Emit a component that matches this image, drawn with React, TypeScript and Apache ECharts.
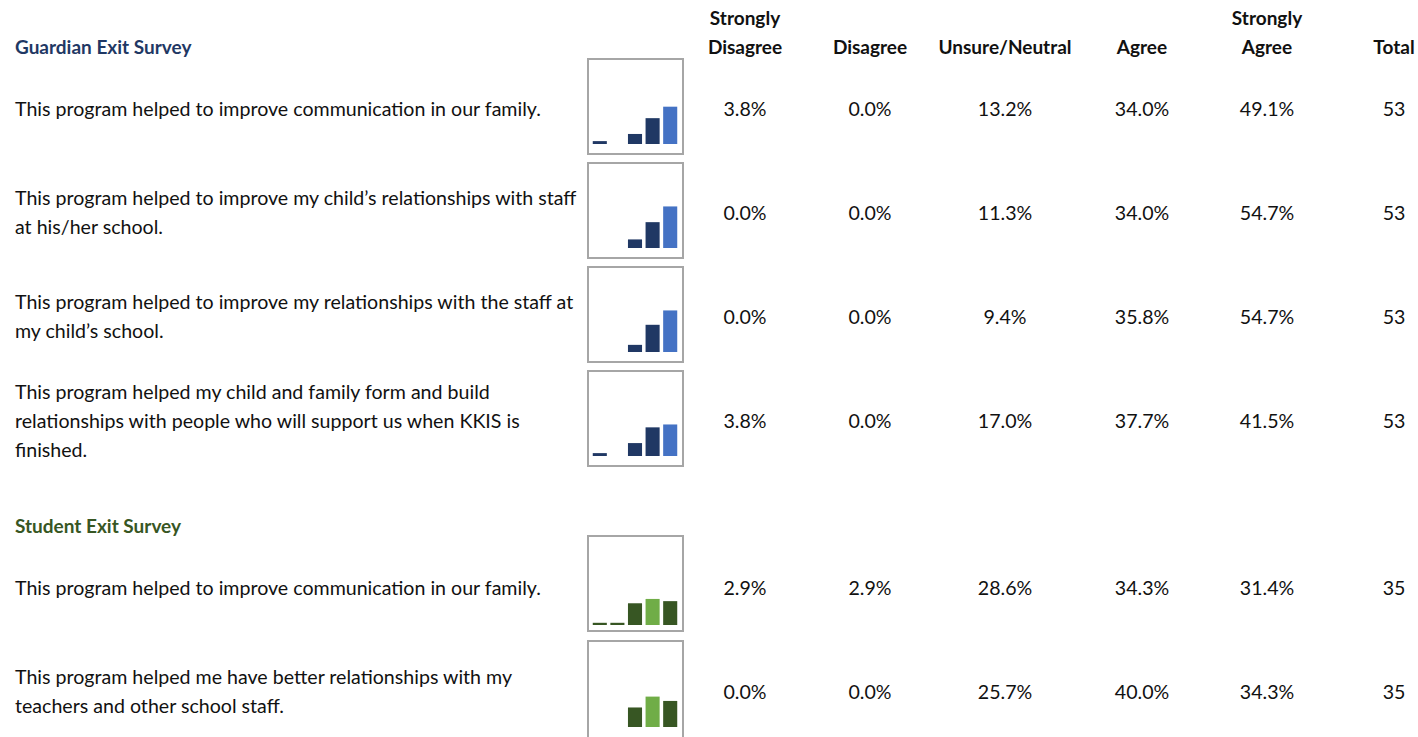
import React, { useEffect, useRef } from "react";
import * as echarts from "echarts";

const categories = ["Strongly Disagree", "Disagree", "Unsure/Neutral", "Agree", "Strongly Agree"];
const headerLabels = ["Strongly\nDisagree", "Disagree", "Unsure/Neutral", "Agree", "Strongly\nAgree", "Total"];
const guardianTitle = "Guardian Exit Survey";
const studentTitle = "Student Exit Survey";

const guardianQuestions = [
  "This program helped to improve communication in our family.",
  "This program helped to improve my child\u2019s relationships with staff\nat his/her school.",
  "This program helped to improve my relationships with the staff at\nmy child\u2019s school.",
  "This program helped my child and family form and build\nrelationships with people who will support us when KKIS is\nfinished.",
];
const guardianValues = [
  [3.8, 0.0, 13.2, 34.0, 49.1],
  [0.0, 0.0, 11.3, 34.0, 54.7],
  [0.0, 0.0, 9.4, 35.8, 54.7],
  [3.8, 0.0, 17.0, 37.7, 41.5],
];
const guardianTotals = [53, 53, 53, 53];

const studentQuestions = [
  "This program helped to improve communication in our family.",
  "This program helped me have better relationships with my\nteachers and other school staff.",
];
const studentValues = [
  [2.9, 2.9, 28.6, 34.3, 31.4],
  [0.0, 0.0, 25.7, 40.0, 34.3],
];
const studentTotals = [35, 35];

const FONT = "Lato, 'Liberation Sans', sans-serif";
const FS = 19.6;
const FS_BOLD = 19;

export default function App() {
  const ref = useRef<HTMLDivElement>(null);
  useEffect(() => {
    if (!ref.current) return;
    const chart = echarts.init(ref.current, undefined, { renderer: "svg" });

    const rows = [
      ...guardianQuestions.map((q, i) => ({ q, v: guardianValues[i], t: guardianTotals[i], g: "guardian" })),
      ...studentQuestions.map((q, i) => ({ q, v: studentValues[i], t: studentTotals[i], g: "student" })),
    ];
    const rowY = [108, 212, 316, 420, 587, 691];
    const boxTop = [59, 163, 267, 371, 536, 641];
    const baseOff = [85, 85, 85, 85, 89, 86];
    const colX = [745, 870, 1005, 1142, 1267, 1394];
    const colors: Record<string, [string, string]> = {
      guardian: ["#203864", "#4472c4"],
      student: ["#375623", "#70ad47"],
    };
    const PLOT_H = 76;

    const grids: any[] = [];
    const xAxes: any[] = [];
    const yAxes: any[] = [];
    const series: any[] = [];
    const graphic: any[] = [];

    const txt = (text: string, x: number, y: number, opts: any = {}) => ({
      type: "text",
      x,
      y,
      silent: true,
      style: {
        text,
        fill: opts.fill || "#111111",
        font: opts.bold ? `bold ${FS_BOLD}px ${FONT}` : `${FS}px ${FONT}`,
        align: opts.align || "left",
        verticalAlign: "middle",
        lineHeight: 29,
      },
    });

    headerLabels.forEach((h, i) => {
      const y = h.includes("\n") ? 32 : 46;
      graphic.push(txt(h, colX[i], y, { bold: true, align: "center" }));
    });
    graphic.push(txt(guardianTitle, 15, 46, { bold: true, fill: "#1f3864" }));
    graphic.push(txt(studentTitle, 15, 525, { bold: true, fill: "#375623" }));

    rows.forEach((r, i) => {
      graphic.push(txt(r.q, 15, rowY[i]));
      r.v.forEach((val, j) => {
        graphic.push(txt(val.toFixed(1) + "%", colX[j], rowY[i], { align: "center" }));
      });
      graphic.push(txt(String(r.t), colX[5], rowY[i], { align: "center" }));
      graphic.push({
        type: "rect",
        silent: true,
        shape: { x: 588, y: boxTop[i], width: 95, height: i === 5 ? 110 : 95 },
        style: { fill: "none", stroke: "#a6a6a6", lineWidth: 2 },
      });

      const base = boxTop[i] + baseOff[i];
      grids.push({ left: 591, width: 88, top: base - PLOT_H, height: PLOT_H, containLabel: false });
      xAxes.push({ type: "category", gridIndex: i, data: categories, show: false });
      yAxes.push({ type: "value", gridIndex: i, min: 0, max: 100, show: false });
      const maxV = Math.max(...r.v);
      const [dark, light] = colors[r.g];
      series.push({
        type: "bar",
        xAxisIndex: i,
        yAxisIndex: i,
        barCategoryGap: "20%",
        data: r.v.map((val) => ({ value: val, itemStyle: { color: val === maxV ? light : dark } })),
      });
    });

    chart.setOption({
      animation: false,
      backgroundColor: "#ffffff",
      grid: grids,
      xAxis: xAxes,
      yAxis: yAxes,
      series,
      graphic,
    });
    return () => chart.dispose();
  }, []);

  return (
    <div
      ref={ref}
      style={{ position: "fixed", left: 0, top: 0, width: 1418, height: 737 }}
    />
  );
}
